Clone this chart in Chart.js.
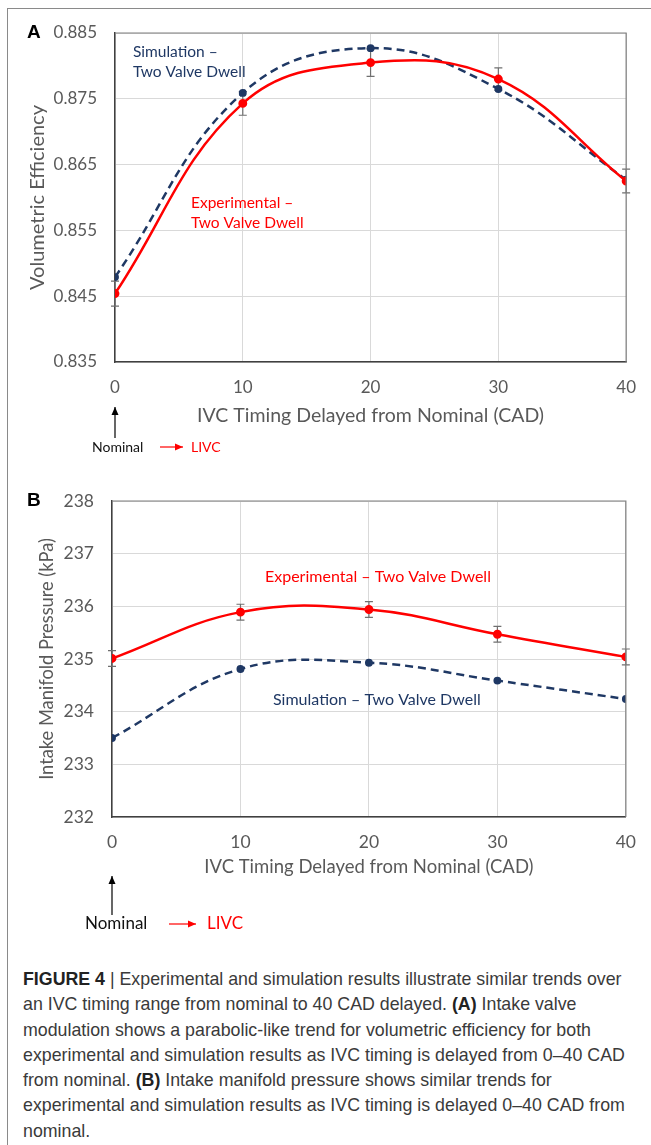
<!DOCTYPE html>
<html>
<head>
<meta charset="utf-8">
<script src="https://cdn.jsdelivr.net/npm/chart.js@4.4.1/dist/chart.umd.min.js"></script>
<style>
  body { margin: 0; background: #fff; }
  #page { position: relative; width: 651px; height: 1145px; overflow: hidden; }
  #frame { position: absolute; left: 7px; top: 8px; width: 660px; height: 1200px;
           border-left: 1.5px solid #8a8a8a; border-top: 1.5px solid #8a8a8a; }
  canvas { position: absolute; left: 0; }
  #cvA { top: 0; }
  #cvB { top: 460px; }
  #caption { position: absolute; left: 23px; top: 967px; font-family: "Liberation Sans", Arial, sans-serif;
             font-size: 17.8px; line-height: 25.3px; color: #3a3a3a; white-space: nowrap; }
  #caption b { color: #222; }
</style>
</head>
<body>
<div id="page">
  <div id="frame"></div>
  <canvas id="cvA" width="651" height="460"></canvas>
  <canvas id="cvB" width="651" height="500"></canvas>
  <div id="caption">
    <b>FIGURE 4</b> | Experimental and simulation results illustrate similar trends over<br>
    an IVC timing range from nominal to 40 CAD delayed. <b>(A)</b> Intake valve<br>
    modulation shows a parabolic-like trend for volumetric efficiency for both<br>
    experimental and simulation results as IVC timing is delayed from 0–40 CAD<br>
    from nominal. <b>(B)</b> Intake manifold pressure shows similar trends for<br>
    experimental and simulation results as IVC timing is delayed 0–40 CAD from<br>
    nominal.
  </div>
</div>
<script>
// ---- data ----
const cad = [0, 10, 20, 30, 40];
const xTicks = ["0", "10", "20", "30", "40"];

// panel A: volumetric efficiency
const veExp = [0.8454, 0.8743, 0.8805, 0.8780, 0.8625];
const veExpErr = [0.0019, 0.0018, 0.0021, 0.0017, 0.0018];
const veSim = [0.8479, 0.8759, 0.8827, 0.8765, 0.8627];
const veTicks = ["0.835", "0.845", "0.855", "0.865", "0.875", "0.885"];

// panel B: intake manifold pressure (kPa)
const mapExp = [235.01, 235.89, 235.94, 235.47, 235.04];
const mapExpErr = [0.15, 0.15, 0.15, 0.15, 0.15];
const mapSim = [233.50, 234.81, 234.93, 234.59, 234.24];
const mapTicks = ["232", "233", "234", "235", "236", "237", "238"];

const RED = "#ff0000";
const NAVY = "#1f3864";
const FONT = "Lato";

// =========================
// helpers
// =========================
function arrow(ctx, x1, y1, x2, y2, color) {
    ctx.save();
    ctx.strokeStyle = color;
    ctx.fillStyle = color;
    ctx.lineWidth = 1.2;
    ctx.beginPath();
    ctx.moveTo(x1, y1);
    ctx.lineTo(x2, y2);
    ctx.stroke();
    const a = Math.atan2(y2 - y1, x2 - x1);
    ctx.beginPath();
    ctx.moveTo(x2, y2);
    ctx.lineTo(x2 - 8 * Math.cos(a) + 3.5 * Math.sin(a), y2 - 8 * Math.sin(a) - 3.5 * Math.cos(a));
    ctx.lineTo(x2 - 8 * Math.cos(a) - 3.5 * Math.sin(a), y2 - 8 * Math.sin(a) + 3.5 * Math.cos(a));
    ctx.closePath();
    ctx.fill();
    ctx.restore();
}

// error bars + frame + notes
const extrasPlugin = {
    id: "extras",
    beforeDatasetsDraw(chart, args, opts) {
        const ctx = chart.ctx;
        const xs = chart.scales.x, ys = chart.scales.y;
        const ds = chart.data.datasets[0];
        ctx.save();
        ctx.strokeStyle = "#6f6f6f";
        ctx.lineWidth = 1.2;
        opts.err.forEach((e, i) => {
            const v = ds.data[i].y;
            const x = xs.getPixelForValue(cad[i]);
            const y1 = ys.getPixelForValue(v + e);
            const y2 = ys.getPixelForValue(v - e);
            ctx.beginPath();
            ctx.moveTo(x, y1); ctx.lineTo(x, y2);
            ctx.moveTo(x - 4, y1); ctx.lineTo(x + 4, y1);
            ctx.moveTo(x - 4, y2); ctx.lineTo(x + 4, y2);
            ctx.stroke();
        });
        ctx.restore();
    },
    afterDraw(chart, args, opts) {
        const ctx = chart.ctx;
        const a = chart.chartArea;
        ctx.save();
        // top / right frame of plot
        ctx.strokeStyle = "#7f7f7f";
        ctx.lineWidth = 1.2;
        ctx.beginPath();
        ctx.moveTo(a.left, a.top); ctx.lineTo(a.right, a.top); ctx.lineTo(a.right, a.bottom);
        ctx.stroke();

        // panel letter
        ctx.fillStyle = "#000";
        ctx.font = "bold 19px 'Liberation Sans'";
        ctx.textBaseline = "middle";
        ctx.fillText(opts.letter, 27, a.top);

        // series notes
        ctx.font = opts.noteFont;
        opts.notes.forEach(n => {
            ctx.fillStyle = n.color;
            ctx.fillText(n.text, n.x, n.y);
        });

        // Nominal -> LIVC
        const x0 = chart.scales.x.getPixelForValue(0);
        const nm = opts.nominal;
        arrow(ctx, x0, nm.y - 9, x0, nm.arrowTop, "#000");
        ctx.font = nm.font;
        ctx.fillStyle = "#111";
        ctx.fillText("Nominal", nm.textX, nm.y);
        arrow(ctx, nm.redX1, nm.y, nm.redX2, nm.y, RED);
        ctx.fillStyle = RED;
        ctx.fillText("LIVC", nm.livcX, nm.y);
        ctx.restore();
    }
};

function makeChart(id, cfg) {
    return new Chart(document.getElementById(id), {
        type: "line",
        data: {
            datasets: [
                {
                    label: "Experimental – Two Valve Dwell",
                    data: cfg.exp.map((v, i) => ({ x: cad[i], y: v })),
                    borderColor: RED,
                    backgroundColor: RED,
                    borderWidth: 2.5,
                    pointRadius: 3.2,
                    tension: 0.4
                },
                {
                    label: "Simulation – Two Valve Dwell",
                    data: cfg.sim.map((v, i) => ({ x: cad[i], y: v })),
                    borderColor: NAVY,
                    backgroundColor: NAVY,
                    borderWidth: 2.5,
                    borderDash: [8, 5],
                    pointRadius: 2.7,
                    tension: 0.4
                }
            ]
        },
        options: {
            responsive: false,
            animation: false,
            layout: { padding: { left: 0, right: cfg.padRight, top: cfg.padTop, bottom: 0 } },
            plugins: {
                legend: { display: false },
                tooltip: { enabled: false },
                extras: {
                    err: cfg.err,
                    letter: cfg.letter,
                    notes: cfg.notes,
                    noteFont: cfg.noteSize + "px " + FONT,
                    nominal: cfg.nominal
                }
            },
            scales: {
                x: {
                    type: "linear",
                    min: 0, max: 40,
                    ticks: {
                        stepSize: 10,
                        color: "#595959",
                        font: { family: FONT, size: cfg.tickSize },
                        padding: cfg.xTickPad,
                        callback: (v, i) => xTicks[i]
                    },
                    grid: { color: "#d9d9d9", drawTicks: false },
                    border: { color: "#404040", width: 1.5 },
                    title: {
                        display: true,
                        text: "IVC Timing Delayed from Nominal (CAD)",
                        color: "#595959",
                        font: { family: FONT, size: cfg.xTitleSize },
                        padding: { top: 0, bottom: cfg.xTitleBottom }
                    },
                    afterFit: s => { s.height = cfg.xHeight; }
                },
                y: {
                    min: cfg.yMin, max: cfg.yMax,
                    ticks: {
                        stepSize: cfg.yStep,
                        color: "#595959",
                        font: { family: FONT, size: cfg.tickSize },
                        padding: cfg.yTickPad,
                        callback: (v, i) => cfg.yLabels[i]
                    },
                    grid: { color: "#d9d9d9", drawTicks: false },
                    border: { color: "#404040", width: 1.5 },
                    title: {
                        display: true,
                        text: cfg.yTitle,
                        color: "#595959",
                        font: { family: FONT, size: cfg.yTitleSize },
                        padding: { top: cfg.yTitleTop, bottom: 0 }
                    },
                    afterFit: s => { s.width = cfg.yWidth; }
                }
            }
        },
        plugins: [extrasPlugin]
    });
}

// ================= PANEL A =================
makeChart("cvA", {
    exp: veExp, sim: veSim, err: veExpErr,
    yMin: 0.835, yMax: 0.885, yStep: 0.01, yLabels: veTicks,
    yTitle: "Volumetric Efficiency",
    letter: "A",
    padTop: 33, padRight: 19,
    yWidth: 115, xHeight: 98,
    tickSize: 17, xTitleSize: 19.5, yTitleSize: 20, noteSize: 15.5,
    xTickPad: 15, yTickPad: 18,
    xTitleBottom: 33, yTitleTop: 26,
    notes: [
        { text: "Simulation –", x: 133, y: 52, color: NAVY },
        { text: "Two Valve Dwell", x: 133, y: 72, color: NAVY },
        { text: "Experimental –", x: 191, y: 203, color: RED },
        { text: "Two Valve Dwell", x: 191, y: 223, color: RED }
    ],
    nominal: { y: 447, arrowTop: 407, font: "14px " + FONT, textX: 92, redX1: 160, redX2: 183, livcX: 191 }
});

// ================= PANEL B =================
makeChart("cvB", {
    exp: mapExp, sim: mapSim, err: mapExpErr,
    yMin: 232, yMax: 238, yStep: 1, yLabels: mapTicks,
    yTitle: "Intake Manifold Pressure (kPa)",
    letter: "B",
    padTop: 41, padRight: 24,
    yWidth: 112, xHeight: 143,
    tickSize: 17.5, xTitleSize: 18.5, yTitleSize: 18.3, noteSize: 16,
    xTickPad: 15, yTickPad: 18,
    xTitleBottom: 82, yTitleTop: 36,
    notes: [
        { text: "Experimental – Two Valve Dwell", x: 265, y: 117, color: RED },
        { text: "Simulation – Two Valve Dwell", x: 273, y: 240, color: NAVY }
    ],
    nominal: { y: 464, arrowTop: 416, font: "17px " + FONT, textX: 85, redX1: 169, redX2: 196, livcX: 207 }
});
</script>
</body>
</html>
